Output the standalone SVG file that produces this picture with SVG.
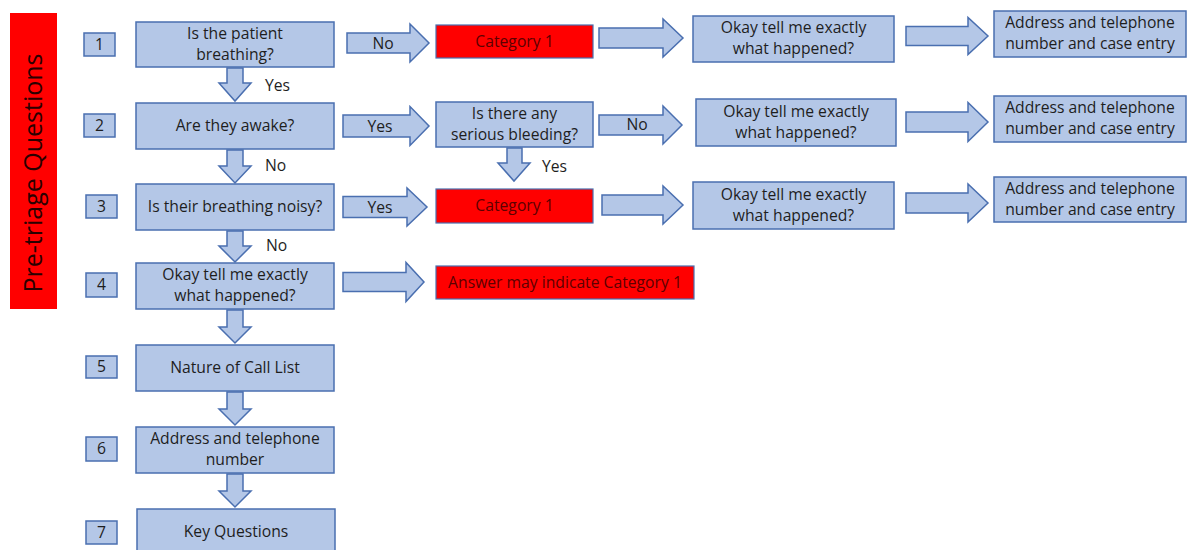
<svg xmlns="http://www.w3.org/2000/svg" width="1188" height="550" viewBox="0 0 1188 550">
<style>
.b{fill:#b4c7e7;stroke:#4a6fb0;stroke-width:1.5}
.r{fill:#ff0000;stroke:#4a6fb0;stroke-width:1.2}
.a{fill:#b4c7e7;stroke:#4a6fb0;stroke-width:1.5;stroke-linejoin:miter}
text{font-family:"Open Sans","Liberation Sans",sans-serif;font-size:15.7px;fill:#1e1e1e;text-anchor:middle}
.rt{fill:#5c0000}
.l{text-anchor:start}
</style>
<rect width="1188" height="550" fill="#fff"/>
<g id="title">
<rect x="10" y="13" width="47" height="296" fill="#ff0000"/>
<text transform="translate(42,173) rotate(-90)" style="font-size:25px;fill:#2a0000">Pre-triage Questions</text>
</g>
<g id="numbers">
<g id="n1"><rect class="b" x="84" y="33" width="31" height="23"/><text x="99.5" y="50">1</text></g>
<g id="n2"><rect class="b" x="84" y="114" width="31" height="23"/><text x="99.5" y="131">2</text></g>
<g id="n3"><rect class="b" x="86" y="195" width="31" height="23"/><text x="101.5" y="212">3</text></g>
<g id="n4"><rect class="b" x="86" y="273" width="31" height="24"/><text x="101.5" y="290">4</text></g>
<g id="n5"><rect class="b" x="86" y="356" width="31" height="22"/><text x="101.5" y="372">5</text></g>
<g id="n6"><rect class="b" x="86" y="437" width="31" height="24"/><text x="101.5" y="454">6</text></g>
<g id="n7"><rect class="b" x="86" y="521" width="31" height="23"/><text x="101.5" y="538">7</text></g>
</g>
<g id="connectors">
<polygon class="a" points="227,68 243,68 243,83 251,83 235,101 219,83 227,83"/>
<polygon class="a" points="227,150 243,150 243,166 251,166 235,183 219,166 227,166"/>
<polygon class="a" points="227,231 243,231 243,246 251,246 235,262 219,246 227,246"/>
<polygon class="a" points="227,310 243,310 243,327 251,327 235,343 219,327 227,327"/>
<polygon class="a" points="227,392 243,392 243,409 251,409 235,425 219,409 227,409"/>
<polygon class="a" points="227,474 243,474 243,491 251,491 235,507 219,491 227,491"/>
<polygon class="a" points="507,148 522,148 522,163 530,163 514,181 498,163 507,163"/>
<polygon class="a" points="347,33 410,33 410,24 429,43 410,62 410,53 347,53"/>
<polygon class="a" points="599,28 663,28 663,19 683,38 663,57 663,48 599,48"/>
<polygon class="a" points="906,26.5 968,26.5 968,17.5 988,36 968,54.5 968,45.5 906,45.5"/>
<polygon class="a" points="343,115 410,115 410,106.5 429,126 410,145.5 410,137 343,137"/>
<polygon class="a" points="599,115 663,115 663,106 682,125 663,144 663,135 599,135"/>
<polygon class="a" points="906,112 968,112 968,102.5 988,122 968,141.5 968,132 906,132"/>
<polygon class="a" points="343,196.5 407,196.5 407,188 427,207 407,226 407,217.5 343,217.5"/>
<polygon class="a" points="602,195 663,195 663,186 683,205 663,224 663,215 602,215"/>
<polygon class="a" points="906,193 968,193 968,184 988,203 968,222 968,213 906,213"/>
<polygon class="a" points="343,272.5 406,272.5 406,262.5 424,282 406,301.5 406,291.5 343,291.5"/>
<text class="l" x="265" y="91">Yes</text>
<text class="l" x="265" y="171">No</text>
<text class="l" x="266" y="251">No</text>
<text class="l" x="542" y="172">Yes</text>
<text x="383" y="49">No</text>
<text x="380" y="132">Yes</text>
<text x="637" y="130">No</text>
<text x="380" y="213">Yes</text>
</g>
<g id="q1"><rect class="b" x="136" y="22" width="198" height="45"/><text x="235" y="39">Is the patient</text><text x="235" y="60">breathing?</text></g>
<g id="q2"><rect class="b" x="136" y="103" width="198" height="46"/><text x="235" y="131">Are they awake?</text></g>
<g id="q3"><rect class="b" x="136" y="184" width="198" height="46"/><text x="235" y="212">Is their breathing noisy?</text></g>
<g id="q4"><rect class="b" x="136" y="263" width="198" height="46"/><text x="235" y="280">Okay tell me exactly</text><text x="235" y="301">what happened?</text></g>
<g id="q5"><rect class="b" x="136" y="345" width="198" height="46"/><text x="235" y="373">Nature of Call List</text></g>
<g id="q6"><rect class="b" x="136" y="427" width="198" height="46"/><text x="235" y="444">Address and telephone</text><text x="235" y="465">number</text></g>
<g id="q7"><rect class="b" x="137" y="509" width="198" height="50"/><text x="236" y="537">Key Questions</text></g>
<g id="cat1a"><rect class="r" x="436" y="25" width="157" height="33"/><text class="rt" x="514.5" y="47">Category 1</text></g>
<g id="bleed"><rect class="b" x="436" y="102" width="157" height="45"/><text x="514.5" y="119">Is there any</text><text x="514.5" y="140">serious bleeding?</text></g>
<g id="cat1b"><rect class="r" x="436" y="189" width="157" height="34"/><text class="rt" x="514.5" y="211">Category 1</text></g>
<g id="cat1c"><rect class="r" x="436" y="266" width="258" height="33"/><text class="rt" x="565" y="288">Answer may indicate Category 1</text></g>
<g id="ok1"><rect class="b" x="693" y="16" width="201" height="46"/><text x="793.5" y="33">Okay tell me exactly</text><text x="793.5" y="54">what happened?</text></g>
<g id="ok2"><rect class="b" x="696" y="99" width="200" height="47"/><text x="796" y="117">Okay tell me exactly</text><text x="796" y="138">what happened?</text></g>
<g id="ok3"><rect class="b" x="693" y="182" width="201" height="47"/><text x="793.5" y="200">Okay tell me exactly</text><text x="793.5" y="221">what happened?</text></g>
<g id="ad1"><rect class="b" x="994" y="11" width="192" height="46"/><text x="1090" y="28">Address and telephone</text><text x="1090" y="49">number and case entry</text></g>
<g id="ad2"><rect class="b" x="994" y="96" width="192" height="46"/><text x="1090" y="113">Address and telephone</text><text x="1090" y="134">number and case entry</text></g>
<g id="ad3"><rect class="b" x="994" y="177" width="192" height="45"/><text x="1090" y="194">Address and telephone</text><text x="1090" y="215">number and case entry</text></g>
</svg>
